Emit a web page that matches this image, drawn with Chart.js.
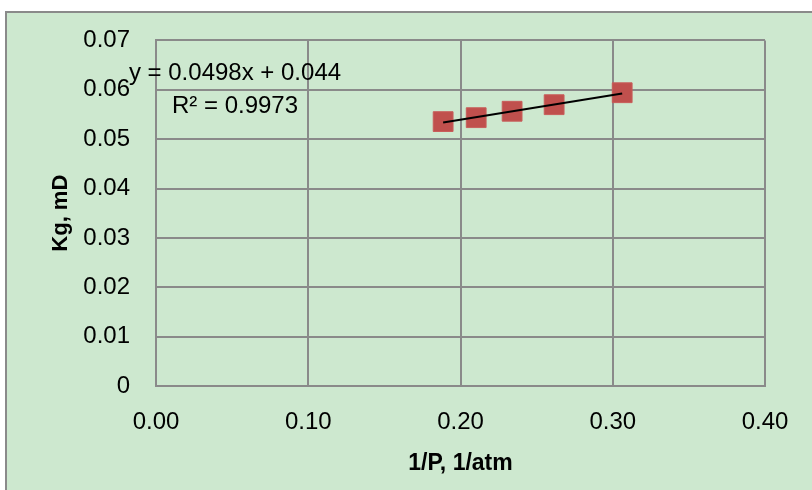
<!DOCTYPE html>
<html>
<head>
<meta charset="utf-8">
<script src="https://cdn.jsdelivr.net/npm/chart.js@4.4.1/dist/chart.umd.min.js"></script>
<style>
  html, body { margin: 0; padding: 0; background: #fff; }
  canvas { display: block; }
</style>
</head>
<body>
<canvas id="kgChart" width="812" height="490"></canvas>
<script>
// 1/P values (1/atm) and measured Kg (mD)
const invP = [0.1886, 0.2103, 0.2339, 0.2615, 0.3062];
const kg = [0.05355, 0.05435, 0.05565, 0.05698, 0.0594];

// linear trendline as printed on the chart
const slope = 0.0498;
const intercept = 0.044;
const rSquared = 0.9973;

const xTicks = [0, 0.1, 0.2, 0.3, 0.4];
const yTicks = [0, 0.01, 0.02, 0.03, 0.04, 0.05, 0.06, 0.07];

const FONT = "'Liberation Sans', Arial, sans-serif";
const GRID = '#8a8a8a';

const points = invP.map((x, i) => ({ x: x, y: kg[i] }));
const xMin = Math.min(...invP), xMax = Math.max(...invP);
const trend = [xMin, xMax].map(x => ({ x: x, y: slope * x + intercept }));

// green chart background with a grey frame
const frame = {
  id: 'frame',
  beforeDraw(chart) {
    const ctx = chart.ctx;
    ctx.save();
    ctx.fillStyle = '#fff';
    ctx.fillRect(0, 0, chart.width, chart.height);
    ctx.fillStyle = '#cde8cf';
    ctx.fillRect(6, 12, chart.width, chart.height);
    ctx.strokeStyle = '#8a8a8a';
    ctx.lineWidth = 2;
    ctx.strokeRect(6, 12, chart.width + 10, chart.height + 10);
    ctx.restore();
  }
};

// trendline equation label
const equation = {
  id: 'equation',
  afterDatasetsDraw(chart) {
    const ctx = chart.ctx;
    ctx.save();
    ctx.font = '24px ' + FONT;
    ctx.fillStyle = '#000';
    ctx.textAlign = 'center';
    ctx.textBaseline = 'middle';
    ctx.fillText('y = ' + slope + 'x + ' + intercept, 235, 73);
    ctx.fillText('R\u00b2 = ' + rSquared, 235, 106);
    ctx.restore();
  }
};

new Chart(document.getElementById('kgChart'), {
  type: 'scatter',
  data: {
    datasets: [{
      type: 'line',
      data: trend,
      borderColor: '#000',
      borderWidth: 2,
      pointRadius: 0,
      fill: false
    }, {
      data: points,
      pointStyle: 'rect',
      pointRadius: 14,
      pointHoverRadius: 14,
      backgroundColor: '#c0504d',
      borderColor: '#c85e5b',
      borderWidth: 1
    }]
  },
  options: {
    responsive: false,
    animation: false,
    layout: { padding: { top: 37, right: 47, bottom: 0, left: 0 } },
    plugins: {
      legend: { display: false },
      tooltip: { enabled: false }
    },
    scales: {
      x: {
        type: 'linear',
        min: 0,
        max: 0.4,
        afterBuildTicks: s => { s.ticks = xTicks.map(v => ({ value: v })); },
        afterFit: s => { s.height = 104; },
        ticks: {
          padding: 22,
          color: '#000',
          font: { family: FONT, size: 24 },
          callback: v => v.toFixed(2)
        },
        grid: { color: GRID, lineWidth: 2, drawTicks: false },
        border: { color: GRID, width: 2 },
        title: {
          display: true,
          text: '1/P, 1/atm',
          color: '#000',
          font: { family: FONT, size: 23, weight: 'bold' },
          padding: { top: 0, bottom: 13 }
        }
      },
      y: {
        type: 'linear',
        min: 0,
        max: 0.07,
        afterBuildTicks: s => { s.ticks = yTicks.map(v => ({ value: v })); },
        afterFit: s => { s.width = 156; },
        ticks: {
          padding: 26,
          color: '#000',
          font: { family: FONT, size: 24 },
          callback: v => v === 0 ? '0' : v.toFixed(2)
        },
        grid: { color: GRID, lineWidth: 2, drawTicks: false },
        border: { color: GRID, width: 2 },
        title: {
          display: true,
          text: 'Kg, mD',
          color: '#000',
          font: { family: FONT, size: 22, weight: 'bold' },
          padding: { top: 48, bottom: 0 }
        }
      }
    }
  },
  plugins: [frame, equation]
});
</script>
</body>
</html>
